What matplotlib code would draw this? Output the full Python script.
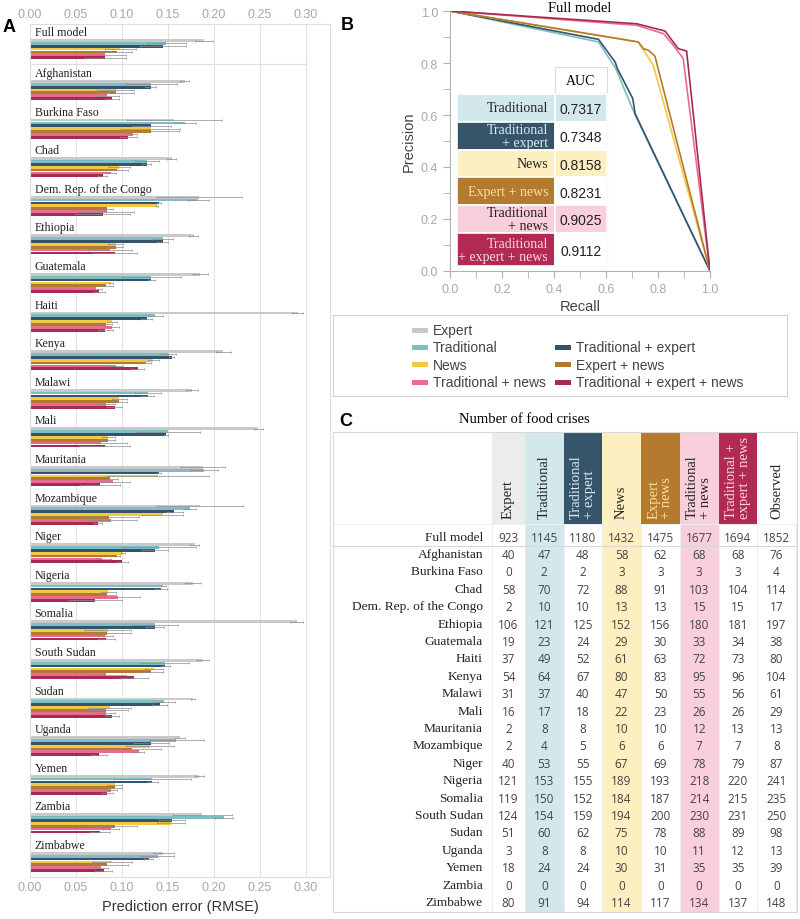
import numpy as np
import matplotlib.pyplot as plt
from matplotlib.patches import Rectangle

plt.rcParams['font.family'] = ['Liberation Sans', 'DejaVu Sans']
SERIF = 'Liberation Serif'
NUMF = 'Open Sans'

# ---- data ----
groups = ['Full model', 'Afghanistan', 'Burkina Faso', 'Chad', 'Dem. Rep. of the Congo',
          'Ethiopia', 'Guatemala', 'Haiti', 'Kenya', 'Malawi', 'Mali', 'Mauritania',
          'Mozambique', 'Niger', 'Nigeria', 'Somalia', 'South Sudan', 'Sudan', 'Uganda',
          'Yemen', 'Zambia', 'Zimbabwe']
series_names = ['Expert', 'Traditional', 'Traditional + expert', 'News',
                'Expert + news', 'Traditional + news', 'Traditional + expert + news']
bar_colors = ['#c9c9c9', '#7dbdc3', '#35536a', '#f4c842', '#b07b2e', '#e96b8f', '#a92a51']

# RMSE (bar values) and upper end of error bars
rmse_expert = [0.189, 0.168, 0.157, 0.154, 0.184, 0.178, 0.185, 0.291, 0.210, 0.176, 0.248,
               0.188, 0.185, 0.179, 0.177, 0.290, 0.188, 0.177, 0.163, 0.184, 0.187, 0.145]
hi_expert = [0.199, 0.173, 0.209, 0.159, 0.230, 0.183, 0.193, 0.297, 0.218, 0.183, 0.253,
             0.212, 0.232, 0.184, 0.186, 0.297, 0.195, 0.179, 0.168, 0.189, 0.219, 0.156]
rmse_trad = [0.148, 0.132, 0.168, 0.127, 0.183, 0.144, 0.132, 0.136, 0.151, 0.128, 0.150,
             0.189, 0.174, 0.140, 0.145, 0.136, 0.147, 0.146, 0.159, 0.133, 0.211, 0.139]
hi_trad = [0.169, 0.160, 0.180, 0.140, 0.194, 0.155, 0.164, 0.144, 0.159, 0.142, 0.185,
           0.204, 0.180, 0.180, 0.148, 0.161, 0.173, 0.158, 0.189, 0.175, 0.221, 0.157]
rmse_trad_exp = [0.144, 0.131, 0.132, 0.127, 0.140, 0.144, 0.132, 0.127, 0.154, 0.128, 0.148,
                 0.140, 0.157, 0.136, 0.142, 0.136, 0.147, 0.141, 0.132, 0.133, 0.154, 0.129]
hi_trad_exp = [0.169, 0.137, 0.153, 0.132, 0.142, 0.150, 0.136, 0.133, 0.157, 0.135, 0.150,
               0.142, 0.166, 0.150, 0.149, 0.146, 0.152, 0.149, 0.151, 0.139, 0.168, 0.134]
rmse_news = [0.098, 0.093, 0.131, 0.097, 0.138, 0.093, 0.088, 0.089, 0.134, 0.097, 0.085,
             0.139, 0.144, 0.101, 0.085, 0.085, 0.135, 0.087, 0.130, 0.092, 0.153, 0.089]
hi_news = [0.115, 0.113, 0.163, 0.109, 0.139, 0.101, 0.090, 0.094, 0.140, 0.105, 0.092,
           0.194, 0.166, 0.103, 0.093, 0.110, 0.145, 0.110, 0.156, 0.100, 0.168, 0.111]
rmse_exp_news = [0.095, 0.093, 0.131, 0.094, 0.084, 0.093, 0.083, 0.083, 0.126, 0.097, 0.085,
                 0.087, 0.086, 0.095, 0.084, 0.084, 0.132, 0.083, 0.111, 0.092, 0.092, 0.084]
hi_exp_news = [0.111, 0.113, 0.162, 0.106, 0.090, 0.101, 0.090, 0.089, 0.132, 0.105, 0.092,
               0.096, 0.118, 0.098, 0.093, 0.110, 0.145, 0.106, 0.142, 0.100, 0.116, 0.107]
rmse_trad_news = [0.082, 0.084, 0.112, 0.088, 0.084, 0.087, 0.072, 0.089, 0.093, 0.083, 0.077,
                  0.090, 0.088, 0.078, 0.096, 0.082, 0.083, 0.083, 0.118, 0.088, 0.088, 0.077]
hi_trad_news = [0.104, 0.097, 0.116, 0.093, 0.113, 0.111, 0.078, 0.097, 0.101, 0.092, 0.105,
                0.109, 0.116, 0.088, 0.119, 0.090, 0.104, 0.092, 0.124, 0.095, 0.097, 0.085]
rmse_all = [0.082, 0.089, 0.107, 0.079, 0.079, 0.092, 0.075, 0.082, 0.117, 0.092, 0.081,
            0.076, 0.074, 0.100, 0.071, 0.083, 0.113, 0.089, 0.075, 0.084, 0.076, 0.080]
hi_all = [0.104, 0.097, 0.116, 0.084, 0.109, 0.116, 0.081, 0.090, 0.124, 0.100, 0.109,
          0.098, 0.078, 0.106, 0.100, 0.092, 0.128, 0.097, 0.084, 0.090, 0.087, 0.089]

rmse = [rmse_expert, rmse_trad, rmse_trad_exp, rmse_news, rmse_exp_news, rmse_trad_news, rmse_all]
rmse_hi = [hi_expert, hi_trad, hi_trad_exp, hi_news, hi_exp_news, hi_trad_news, hi_all]

# precision-recall curves (full model)
pr_trad = ([0.0, 0.571, 0.638, 0.712, 1.0], [1.0, 0.881, 0.778, 0.600, 0.0])
pr_trad_exp = ([0.0, 0.571, 0.635, 0.644, 0.703, 0.712, 1.0], [1.0, 0.891, 0.804, 0.778, 0.663, 0.605, 0.0])
pr_news = ([0.0, 0.724, 0.782, 1.0], [1.0, 0.881, 0.791, 0.0])
pr_exp_news = ([0.0, 0.724, 0.744, 0.763, 0.788, 1.0], [1.0, 0.881, 0.855, 0.849, 0.827, 0.0])
pr_trad_news = ([0.0, 0.718, 0.821, 0.859, 0.897, 1.0], [1.0, 0.945, 0.913, 0.868, 0.817, 0.0])
pr_all = ([0.0, 0.718, 0.827, 0.878, 0.910, 1.0], [1.0, 0.951, 0.923, 0.855, 0.846, 0.0])
auc_labels = ['Traditional', 'Traditional\n+ expert', 'News', 'Expert + news',
              'Traditional\n+ news', 'Traditional\n+ expert + news']
auc_values = [0.7317, 0.7348, 0.8158, 0.8231, 0.9025, 0.9112]

# number of food crises
expert = [923, 40, 0, 58, 2, 106, 19, 37, 54, 31, 16, 2, 2, 40, 121, 119, 124, 51, 3, 18, 0, 80]
traditional = [1145, 47, 2, 70, 10, 121, 23, 49, 64, 37, 17, 8, 4, 53, 153, 150, 154, 60, 8, 24, 0, 91]
trad_expert = [1180, 48, 2, 72, 10, 125, 24, 52, 67, 40, 18, 8, 5, 55, 155, 152, 159, 62, 8, 24, 0, 94]
news = [1432, 58, 3, 88, 13, 152, 29, 61, 80, 47, 22, 10, 6, 67, 189, 184, 194, 75, 10, 30, 0, 114]
expert_news = [1475, 62, 3, 91, 13, 156, 30, 63, 83, 50, 23, 10, 6, 69, 193, 187, 200, 78, 10, 31, 0, 117]
trad_news = [1677, 68, 3, 103, 15, 180, 33, 72, 95, 55, 26, 12, 7, 78, 218, 214, 230, 88, 11, 35, 0, 134]
trad_exp_news = [1694, 68, 3, 104, 15, 181, 34, 73, 96, 56, 26, 13, 7, 79, 220, 215, 231, 89, 12, 35, 0, 137]
observed = [1852, 76, 4, 114, 17, 197, 38, 80, 104, 61, 29, 13, 8, 87, 241, 235, 250, 98, 13, 39, 0, 148]
crisis_cols = [expert, traditional, trad_expert, news, expert_news, trad_news, trad_exp_news, observed]
crisis_headers = ['Expert', 'Traditional', 'Traditional\n+ expert', 'News', 'Expert\n+ news',
                  'Traditional\n+ news', 'Traditional +\nexpert + news', 'Observed']

# light / dark tints
light_fill = ['#ececec', '#d3e8ed', '#36556b', '#fdefc0', '#b57a2d', '#f9cfdc', '#b02a52', 'white']
light_text = ['#222222', '#222222', '#d8ecf2', '#222222', '#fbe0a0', '#222222', '#fcd6e3', '#222222']

W, H = 800, 920


def fbox(x0, y0, x1, y1):
    return [x0 / W, 1 - y1 / H, (x1 - x0) / W, (y1 - y0) / H]


fig = plt.figure(figsize=(8, 9.2), dpi=100)

# overlay for letters, legend and table C
ov = fig.add_axes([0, 0, 1, 1])
ov.set_xlim(0, W)
ov.set_ylim(H, 0)
ov.axis('off')

# ---------------- panel A ----------------
axA = fig.add_axes(fbox(30, 25, 330, 878))
pitch = 38.6
gpos = np.array([-1.06] + list(range(len(groups) - 1)))
bh = 2.75 / pitch
for j in range(7):
    vals = np.array(rmse[j])
    err = np.clip(np.array(rmse_hi[j]) - vals, 0.0015, None)
    ypos = gpos + (8.4 + 2.86 * j) / pitch
    axA.barh(ypos, vals, height=bh, color=bar_colors[j], zorder=2, linewidth=0)
    axA.errorbar(vals, ypos, xerr=err, fmt='none', ecolor='#8c8c8c', elinewidth=0.5,
                 capsize=0.8, capthick=0.5, zorder=3)
for g, y in zip(groups, gpos):
    axA.text(0.005, y, g, family=SERIF, fontsize=8.6, va='center', ha='left', color='#222222')
axA.plot([0, 0.30], [-0.233, -0.233], color='#dddddd', lw=0.8, zorder=1)
axA.set_xlim(0, 0.326)
axA.set_ylim(20.83, -1.27)
axA.set_xticks(np.arange(0, 0.301, 0.05))
axA.set_xticklabels([f'{v:.2f}' for v in np.arange(0, 0.301, 0.05)])
axA.set_yticks([])
axA.tick_params(axis='x', top=True, labeltop=True, length=0, labelcolor='#a8a8a8',
                labelsize=9, pad=3)
axA.tick_params(axis='x', which='major', labeltop=True)
for lab in axA.xaxis.get_ticklabels(which='major'):
    pass
axA.xaxis.set_tick_params(pad=3)
axA.grid(axis='x', color='#e2e2e2', lw=0.8, zorder=0)
axA.set_axisbelow(True)
for s in axA.spines.values():
    s.set_color('#dddddd')
    s.set_linewidth(0.8)
axA.set_xlabel('Prediction error (RMSE)', fontsize=10.5, color='#333333', labelpad=4)

# ---------------- panel B ----------------
axB = fig.add_axes(fbox(450, 12, 710, 272))
curves = [(pr_trad, bar_colors[1]), (pr_trad_exp, bar_colors[2]), (pr_news, bar_colors[3]),
          (pr_exp_news, bar_colors[4]), (pr_trad_news, bar_colors[5]), (pr_all, bar_colors[6])]
for (rx, py), c in curves:
    axB.plot(rx, py, color=c, lw=1.2, zorder=2)
axB.set_xlim(0, 1)
axB.set_ylim(0, 1)
for s in ['top', 'right']:
    axB.spines[s].set_visible(False)
for s in ['left', 'bottom']:
    axB.spines[s].set_color('#b0b0b0')
    axB.spines[s].set_linewidth(0.8)
axB.set_xticks(np.arange(0, 1.01, 0.2))
axB.set_yticks(np.arange(0, 1.01, 0.2))
axB.set_xticks(np.arange(0.1, 1.0, 0.2), minor=True)
axB.set_yticks(np.arange(0.1, 1.0, 0.2), minor=True)
axB.tick_params(which='both', length=5, color='#b0b0b0', labelcolor='#a8a8a8', labelsize=9)
axB.set_xlabel('Recall', fontsize=10.5, color='#444444', labelpad=3)
axB.set_ylabel('Precision', fontsize=10.5, color='#444444', labelpad=4)
axB.text(0.5, 1.015, 'Full model', family=SERIF, fontsize=10.5, ha='center', va='center',
         transform=axB.transAxes)

# AUC table inside panel B
lx0, lx1, ax0, ax1 = 0.027, 0.402, 0.404, 0.604
row_top = 0.681
row_h = [0.107, 0.107, 0.107, 0.107, 0.107, 0.127]
axB.add_patch(Rectangle((ax0, 0.019), ax1 - ax0, 0.785 - 0.019, facecolor='white',
                        edgecolor='#dddddd', lw=0.8, zorder=3))
axB.text((ax0 + ax1) / 2, 0.733, 'AUC', family=SERIF, fontsize=10, ha='center', va='center', zorder=5)
top = row_top
for i in range(6):
    h = row_h[i]
    fill_l = light_fill[i + 1]
    axB.add_patch(Rectangle((lx0, top - h), lx1 - lx0, h, facecolor=fill_l,
                            edgecolor='white', lw=1.2, zorder=4))
    auc_fill = fill_l if i in (0, 2, 4) else 'white'
    axB.add_patch(Rectangle((ax0, top - h), ax1 - ax0, h, facecolor=auc_fill,
                            edgecolor='white', lw=1.2, zorder=4))
    axB.text(lx1 - 0.025, top - h / 2, auc_labels[i], family=SERIF, fontsize=10,
             ha='right', va='center', color=light_text[i + 1], linespacing=1.0, zorder=5)
    axB.text((ax0 + ax1) / 2, top - h / 2 - 0.005, f'{auc_values[i]:.4f}', fontsize=10,
             ha='center', va='center', color='#222222', zorder=5)
    top -= h

# ---------------- legend ----------------
ov.add_patch(Rectangle((333, 316), 454, 81, fill=False, edgecolor='#d0d0d0', lw=0.8))
leg_pos = [(0, 0), (1, 0), (1, 1), (2, 0), (2, 1), (3, 0), (3, 1)]
for name, c, (r, cidx) in zip(series_names, bar_colors, leg_pos):
    x = [412, 555][cidx]
    y = 331 + 17.4 * r
    ov.add_patch(Rectangle((x, y - 2.5), 16, 5, facecolor=c, edgecolor='none'))
    ov.text(x + 21, y, name, fontsize=10, va='center', ha='left', color='#444444')

# ---------------- panel C ----------------
ov.text(3, 28, 'A', fontsize=13, weight='bold', va='center')
ov.text(341, 25, 'B', fontsize=13, weight='bold', va='center')
ov.text(339, 422, 'C', fontsize=13, weight='bold', va='center')
ov.text(524, 420, 'Number of food crises', family=SERIF, fontsize=10.5, ha='center', va='center')

edges = [492, 525, 563.5, 602, 641, 680, 718.5, 757, 796]
t_top, h_bot, t_bot = 433, 525, 913
for k in range(8):
    x0, x1 = edges[k], edges[k + 1]
    body_col = k in (1, 3, 5)
    ov.add_patch(Rectangle((x0, t_top), x1 - x0, (t_bot if body_col else h_bot) - t_top,
                           facecolor=light_fill[k], edgecolor='none', zorder=1))
    ov.text((x0 + x1) / 2, 519, crisis_headers[k], family=SERIF, fontsize=10.5, rotation=90,
            ha='center', va='bottom', multialignment='left', color=light_text[k],
            linespacing=1.0, zorder=3)
for x in edges:
    ov.plot([x, x], [h_bot, t_bot], color='#efefef', lw=0.7, zorder=2)
ov.add_patch(Rectangle((333, t_top), 464, t_bot - t_top, fill=False, edgecolor='#d8d8d8',
                       lw=0.8, zorder=4))
ov.plot([333, 797], [h_bot, h_bot], color='#eeeeee', lw=0.7, zorder=2)
ov.plot([333, 797], [547, 547], color='#d8d8d8', lw=0.8, zorder=2)

row_y = [538] + [555 + 17.4 * i for i in range(len(groups) - 1)]
for i, (g, y) in enumerate(zip(groups, row_y)):
    ov.text(483, y, g, family=SERIF, fontsize=9.6, ha='right', va='center', color='#222222', zorder=3)
    for k in range(8):
        ov.text((edges[k] + edges[k + 1]) / 2, y + 0.5, str(crisis_cols[k][i]), family=NUMF,
                fontsize=8.5, ha='center', va='center', color='#444444', zorder=3)

fig.savefig('out.png', dpi=100)
